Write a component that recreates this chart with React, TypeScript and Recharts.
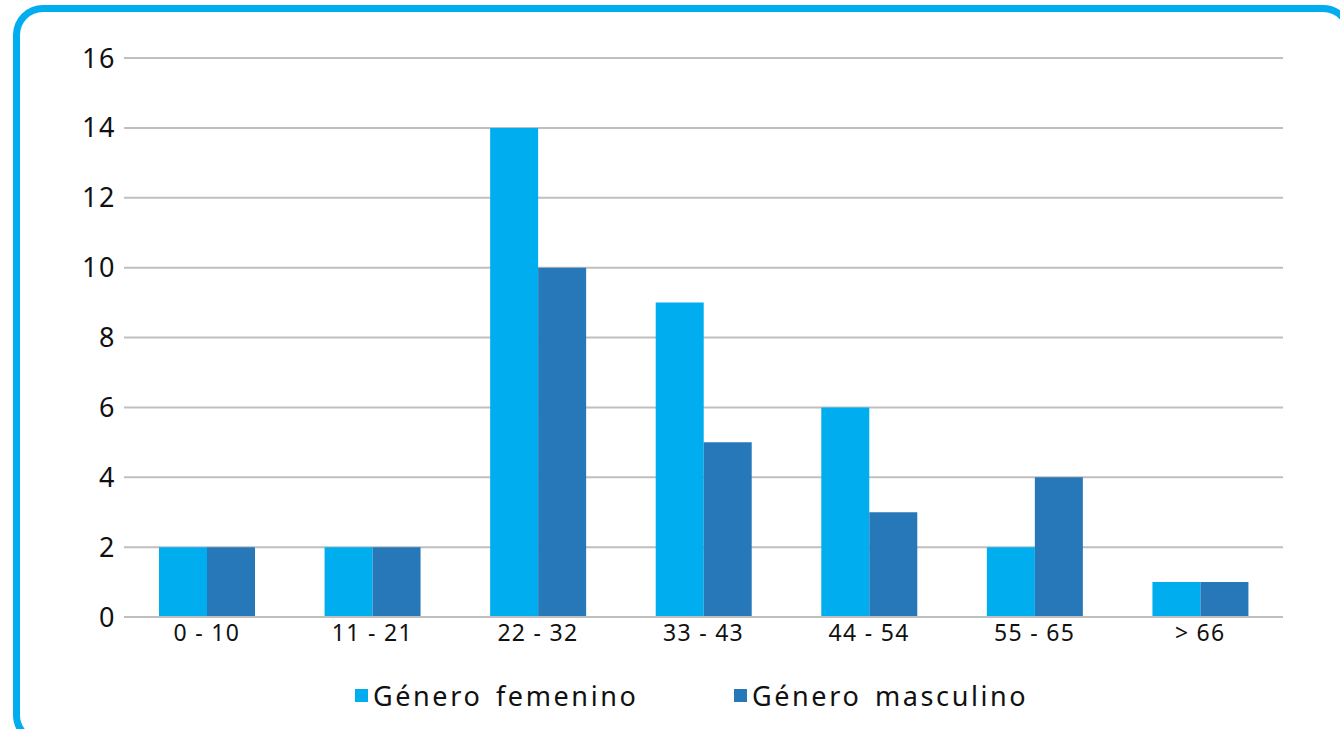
import { BarChart, Bar, XAxis, YAxis, CartesianGrid } from "recharts";

const ageGroups = ["0 - 10", "11 - 21", "22 - 32", "33 - 43", "44 - 54", "55 - 65", "> 66"];
const femenino = [2, 2, 14, 9, 6, 2, 1];
const masculino = [2, 2, 10, 5, 3, 4, 1];
const yTicks = [0, 2, 4, 6, 8, 10, 12, 14, 16];

const series = [
  { key: "femenino", name: "Género femenino", color: "#00AEEF", legendX: 355 },
  { key: "masculino", name: "Género masculino", color: "#2778B9", legendX: 734 },
];

const data = ageGroups.map((group, i) => ({
  group,
  femenino: femenino[i],
  masculino: masculino[i],
}));

const FONT = "'Noto Sans', 'DejaVu Sans', sans-serif";

export default function App() {
  return (
    <div
      style={{
        position: "absolute",
        left: 0,
        top: 0,
        width: 1340,
        height: 729,
        overflow: "hidden",
        background: "#fff",
        fontFamily: FONT,
      }}
    >
      <div
        style={{
          position: "absolute",
          left: 13,
          top: 5,
          width: 1340,
          height: 740,
          border: "7px solid #00AEEF",
          borderRadius: 30,
          boxSizing: "border-box",
        }}
      />
      <div style={{ position: "absolute", left: 0, top: 0 }}>
        <BarChart
          width={1340}
          height={729}
          data={data}
          margin={{ top: 58, right: 57, left: 0, bottom: 0 }}
          barCategoryGap={35}
          barGap={0}
        >
          <CartesianGrid vertical={false} stroke="#BFBFBF" strokeWidth={2} />
          <XAxis
            dataKey="group"
            height={112}
            axisLine={{ stroke: "#BFBFBF", strokeWidth: 2 }}
            tickLine={false}
            tick={{ fill: "#111", fontSize: 23, fontFamily: FONT, style: { letterSpacing: 1.3 } }}
          />
          <YAxis
            width={124}
            domain={[0, 16]}
            ticks={yTicks}
            axisLine={false}
            tickLine={false}
            tick={{ fill: "#111", fontSize: 27, fontFamily: FONT, style: { letterSpacing: 1.5 } }}
          />
          {series.map((s) => (
            <Bar
              key={s.key}
              dataKey={s.key}
              name={s.name}
              fill={s.color}
              isAnimationActive={false}
            />
          ))}
        </BarChart>
      </div>
      {series.map((s) => (
        <div
          key={s.key}
          style={{
            position: "absolute",
            top: 677,
            left: s.legendX,
            display: "flex",
            alignItems: "center",
            fontSize: 27,
            color: "#111",
            letterSpacing: 2.6,
            wordSpacing: 4,
            whiteSpace: "nowrap",
          }}
        >
          <span
            style={{ width: 13, height: 13, background: s.color, marginRight: 5, display: "inline-block" }}
          />
          <span>{s.name}</span>
        </div>
      ))}
    </div>
  );
}
